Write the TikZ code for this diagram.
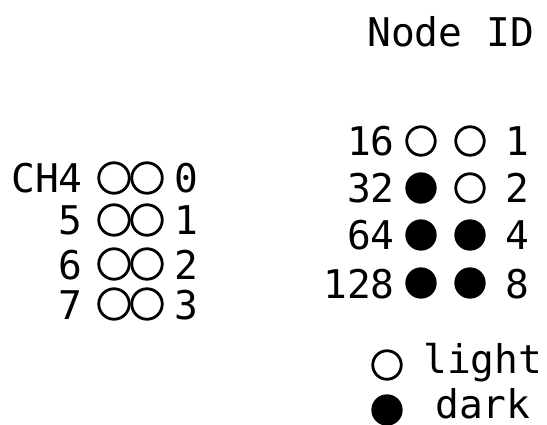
\documentclass[tikz,border=0pt]{standalone}
\usepackage{fontspec}
\setmonofont{DejaVu Sans Mono}
\begin{document}
\begin{tikzpicture}[x=0.02cm,y=-0.02cm,
  lbl/.style={font=\ttfamily\fontsize{22.5}{27}\selectfont,inner sep=0pt},
  led/.style={circle,draw,line width=1.6pt,inner sep=0pt,minimum size=0.57cm},
  ledon/.style={led,fill=black},
  dip/.style={led,minimum size=0.61cm}]
\useasboundingbox (0,0) rectangle (547,425);
\node[lbl,anchor=base west] (title) at (367,47) {Node ID};
% channel switch
\foreach \cy/\nm/\ch [count=\i] in {178/CH4/0,220/5/1,264/6/2,304/7/3}{
  \node[lbl,anchor=base east] (chname\i) at (83,\cy+15) {\nm};
  \node[dip] (chleft\i) at (114,\cy) {};
  \node[dip] (chright\i) at (147,\cy) {};
  \node[lbl,anchor=base west] (chbit\i) at (174,\cy+15) {\ch};
}
% node id switch
\foreach \cy/\hi/\lo/\sa/\sb [count=\i] in {141/16/1/led/led,188/32/2/ledon/led,235/64/4/ledon/ledon,283/128/8/ledon/ledon}{
  \node[lbl,anchor=base east] (idhi\i) at (395,\cy+15) {\hi};
  \node[\sa] (idleft\i) at (421,\cy) {};
  \node[\sb] (idright\i) at (470,\cy) {};
  \node[lbl,anchor=base west] (idlo\i) at (505,\cy+15) {\lo};
}
% legend
\node[led] (keyoff) at (387,365) {};
\node[lbl,anchor=base west] (keyofftext) at (423,373) {light};
\node[ledon] (keyon) at (387,410) {};
\node[lbl,anchor=base west] (keyontext) at (435,418) {dark};
\end{tikzpicture}
\end{document}
